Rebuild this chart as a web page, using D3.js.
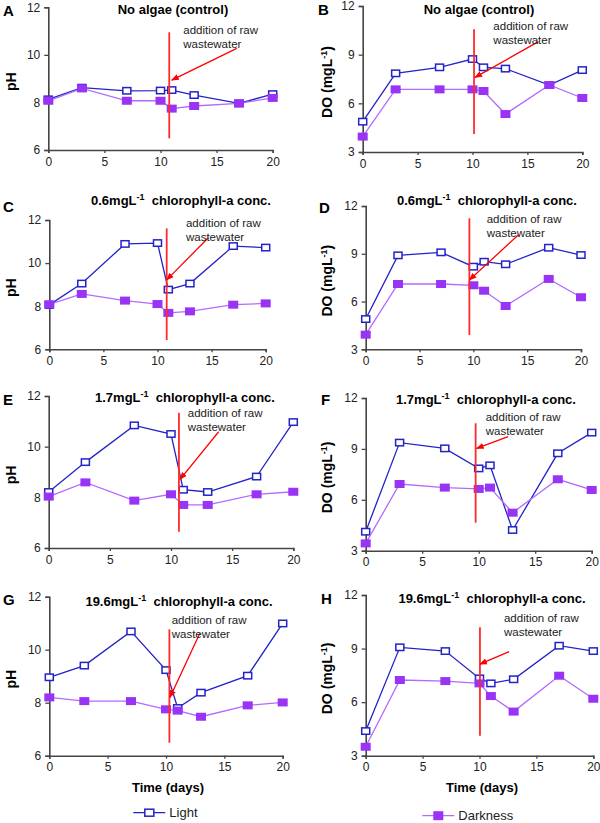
<!DOCTYPE html>
<html>
<head>
<meta charset="utf-8">
<script src="https://cdn.jsdelivr.net/npm/d3@7"></script>
<style>
  body { margin: 0; background: #fff; }
  svg { font-family: "Liberation Sans", Arial, sans-serif; }
</style>
</head>
<body>
<div id="chart"></div>
<script>
// Sampling days, shared by every panel
var days = [0, 3, 7, 10, 11, 13, 17, 20];

// pH values (light / darkness)
var phLightA = [8.13, 8.62, 8.49, 8.50, 8.52, 8.31, 7.96, 8.35];
var phDarkA  = [8.07, 8.59, 8.07, 8.07, 7.74, 7.85, 7.96, 8.19];
var phLightC = [8.06, 9.05, 10.89, 10.93, 8.77, 9.05, 10.79, 10.72];
var phDarkC  = [8.09, 8.57, 8.26, 8.10, 7.69, 7.76, 8.07, 8.13];
var phLightE = [8.21, 9.39, 10.84, 10.50, 8.30, 8.21, 8.82, 10.97];
var phDarkE  = [8.03, 8.59, 7.87, 8.12, 7.70, 7.70, 8.12, 8.22];
var phLightG = [8.96, 9.40, 10.69, 9.23, 7.80, 8.38, 9.02, 10.99];
var phDarkG  = [8.20, 8.06, 8.06, 7.75, 7.70, 7.47, 7.90, 8.01];

// DO values in mg/L (light / darkness)
var doLightB = [4.87, 7.85, 8.22, 8.73, 8.22, 8.14, 7.13, 8.05];
var doDarkB  = [3.95, 6.86, 6.86, 6.86, 6.76, 5.34, 7.13, 6.33];
var doLightD = [4.90, 8.90, 9.09, 8.19, 8.50, 8.34, 9.38, 8.92];
var doDarkD  = [3.92, 7.10, 7.10, 7.02, 6.68, 5.72, 7.42, 6.27];
var doLightF = [4.12, 9.37, 9.03, 7.85, 8.03, 4.22, 8.74, 9.96];
var doDarkF  = [3.43, 6.93, 6.72, 6.64, 6.72, 5.24, 7.21, 6.58];
var doLightH = [4.38, 9.07, 8.86, 7.33, 7.05, 7.28, 9.16, 8.86];
var doDarkH  = [3.50, 7.24, 7.18, 7.05, 6.34, 5.47, 7.48, 6.19];

// Tick labels
var dayTicks = [0, 5, 10, 15, 20];
var phTicks = [6, 8, 10, 12];
var doTicks = [3, 6, 9, 12];

// Titles
var titles = ["No algae (control)", "0.6", "1.7", "19.6"];

// Wastewater addition: day of the red line, its value span, arrow tail/tip, note position
var addition = [
  {day: 10.78, lo: 6.49, hi: 10.95, tail: [16.8, 10.27], tip: [11.0, 8.94], note: [12.03, 10.88]},
  {day: 10.14, lo: 4.11, hi: 10.56, tail: [16.0, 9.80], tip: [10.23, 7.60], note: [11.9, 10.52]},
  {day: 10.85, lo: 6.43, hi: 11.61, tail: [14.7, 11.18], tip: [10.85, 9.22], note: [12.63, 11.69]},
  {day: 9.63, lo: 3.90, hi: 11.23, tail: [14.2, 10.2], tip: [9.63, 7.35], note: [11.24, 10.95]},
  {day: 10.65, lo: 6.64, hi: 11.34, tail: [13.9, 10.59], tip: [10.74, 8.71], note: [11.37, 11.16]},
  {day: 9.73, lo: 4.65, hi: 10.51, tail: [12.6, 9.72], tip: [9.82, 9.03], note: [10.62, 10.66]},
  {day: 10.29, lo: 6.49, hi: 10.77, tail: [12.9, 10.62], tip: [10.34, 8.20], note: [10.49, 10.96]},
  {day: 10.04, lo: 4.12, hi: 10.19, tail: [12.6, 8.83], tip: [10.04, 8.13], note: [12.15, 10.47]}
];

// Panel layout (pixel box of each plot area)
var panels = [
  {letter: "A", kind: "ph", light: phLightA, dark: phDarkA, title: 0, x0: 48.3, x1: 272.7, y0: 7.3, y1: 150, tx: 173, ty: 14, lx: 3, ly: 16},
  {letter: "B", kind: "do", light: doLightB, dark: doDarkB, title: 0, x0: 362.7, x1: 582.3, y0: 6, y1: 152, tx: 479, ty: 14, lx: 318, ly: 15},
  {letter: "C", kind: "ph", light: phLightC, dark: phDarkC, title: 1, x0: 49.3, x1: 265.7, y0: 220, y1: 349.3, tx: 181, ty: 205, lx: 3, ly: 212},
  {letter: "D", kind: "do", light: doLightD, dark: doDarkD, title: 1, x0: 365.7, x1: 581, y0: 206, y1: 349.3, tx: 487, ty: 205, lx: 319, ly: 213},
  {letter: "E", kind: "ph", light: phLightE, dark: phDarkE, title: 2, x0: 48.7, x1: 293.3, y0: 396, y1: 548, tx: 185, ty: 402, lx: 3, ly: 405},
  {letter: "F", kind: "do", light: doLightF, dark: doDarkF, title: 2, x0: 365.7, x1: 591.7, y0: 398, y1: 550.7, tx: 486, ty: 404, lx: 321, ly: 405},
  {letter: "G", kind: "ph", light: phLightG, dark: phDarkG, title: 3, x0: 49.3, x1: 282.7, y0: 596.7, y1: 755.7, tx: 179, ty: 606, lx: 3, ly: 605},
  {letter: "H", kind: "do", light: doLightH, dark: doDarkH, title: 3, x0: 365.7, x1: 593.3, y0: 595, y1: 755.7, tx: 492, ty: 603, lx: 321, ly: 604}
];

var lightColor = "#2323c8",
    darkFill = "#9933f5",
    darkLine = "#b26bff",
    redColor = "#ff2a2a",
    axisColor = "#444";

var svg = d3.select("#chart").append("svg")
    .attr("width", 600)
    .attr("height", 823);

svg.append("defs").append("marker")
    .attr("id", "arrow")
    .attr("viewBox", "0 0 10 10")
    .attr("refX", 9)
    .attr("refY", 5)
    .attr("markerWidth", 6)
    .attr("markerHeight", 6)
    .attr("orient", "auto")
  .append("path")
    .attr("d", "M0,1 L10,5 L0,9 Z")
    .attr("fill", "#f00");

panels.forEach(function(p, i) {
  var isPh = p.kind === "ph";
  var x = d3.scaleLinear().domain([0, 20]).range([p.x0, p.x1]);
  var y = d3.scaleLinear().domain(isPh ? [6, 12] : [3, 12]).range([p.y1, p.y0]);
  var g = svg.append("g");

  // Axes
  var xAxis = g.append("g")
      .attr("transform", "translate(0," + p.y1 + ")")
      .call(d3.axisBottom(x).tickValues(dayTicks).tickFormat(d3.format("d")).tickSize(3).tickPadding(4));
  var yAxis = g.append("g")
      .attr("transform", "translate(" + p.x0 + ",0)")
      .call(d3.axisLeft(y).tickValues(isPh ? phTicks : doTicks).tickFormat(d3.format("d")).tickSize(4).tickPadding(4));
  [xAxis, yAxis].forEach(function(a) {
    a.select(".domain").attr("stroke", axisColor).attr("stroke-width", 1.6);
    a.selectAll(".tick line").attr("stroke", axisColor).attr("stroke-width", 1.3);
    a.selectAll("text").style("font-size", "12px").attr("fill", "#222");
  });

  var pts = function(vals) { return days.map(function(d, k) { return [d, vals[k]]; }); };
  var line = d3.line().x(function(d) { return x(d[0]); }).y(function(d) { return y(d[1]); });

  // Light series
  g.append("path").datum(pts(p.light))
      .attr("d", line).attr("fill", "none")
      .attr("stroke", lightColor).attr("stroke-width", 1.3);
  g.selectAll(".light").data(pts(p.light)).enter().append("rect")
      .attr("x", function(d) { return x(d[0]) - 4; })
      .attr("y", function(d) { return y(d[1]) - 3.2; })
      .attr("width", 8).attr("height", 6.4)
      .attr("fill", "#fff").attr("stroke", lightColor).attr("stroke-width", 1.5);

  // Darkness series
  g.append("path").datum(pts(p.dark))
      .attr("d", line).attr("fill", "none")
      .attr("stroke", darkLine).attr("stroke-width", 1.3);
  g.selectAll(".dark").data(pts(p.dark)).enter().append("rect")
      .attr("x", function(d) { return x(d[0]) - 5; })
      .attr("y", function(d) { return y(d[1]) - 4; })
      .attr("width", 10).attr("height", 8)
      .attr("fill", darkFill);

  // Wastewater addition marker
  var a = addition[i];
  g.append("line")
      .attr("x1", x(a.day)).attr("x2", x(a.day))
      .attr("y1", y(a.hi)).attr("y2", y(a.lo))
      .attr("stroke", redColor).attr("stroke-width", 1.8);
  g.append("line")
      .attr("x1", x(a.tail[0])).attr("y1", y(a.tail[1]))
      .attr("x2", x(a.tip[0])).attr("y2", y(a.tip[1]))
      .attr("stroke", "#f00").attr("stroke-width", 1.3)
      .attr("marker-end", "url(#arrow)");
  var note = g.append("text")
      .attr("x", x(a.note[0])).attr("y", y(a.note[1]))
      .style("font-size", "11.5px").attr("fill", "#222");
  note.append("tspan").text("addition of raw");
  note.append("tspan").attr("x", x(a.note[0])).attr("dy", 14).text("wastewater");

  // Title
  var t = g.append("text")
      .attr("x", p.tx).attr("y", p.ty)
      .attr("text-anchor", "middle")
      .style("font-size", "13px").style("font-weight", "bold");
  if (p.title === 0) {
    t.text(titles[0]);
  } else {
    t.append("tspan").text(titles[p.title] + "mgL");
    t.append("tspan").attr("dy", -5).style("font-size", "9px").text("-1");
    t.append("tspan").attr("dy", 5).text("\u00a0 chlorophyll-a conc.");
  }

  // Panel letter
  g.append("text")
      .attr("x", p.lx).attr("y", p.ly)
      .style("font-size", "15px").style("font-weight", "bold")
      .text(p.letter);

  // Y label
  var yl = g.append("text")
      .attr("transform", "translate(" + (isPh ? 16 : 332) + "," + ((p.y0 + p.y1) / 2 + 3) + ") rotate(-90)")
      .attr("text-anchor", "middle")
      .style("font-size", "14px").style("font-weight", "bold");
  if (isPh) {
    yl.text("pH");
  } else {
    yl.append("tspan").text("DO (mgL");
    yl.append("tspan").attr("dy", -5).style("font-size", "9px").text("-1");
    yl.append("tspan").attr("dy", 5).text(")");
  }

  // X label on the bottom row
  if (i >= 6) {
    g.append("text")
        .attr("x", i === 6 ? 168 : 482).attr("y", 792)
        .attr("text-anchor", "middle")
        .style("font-size", "13px").style("font-weight", "bold")
        .text("Time (days)");
  }
});

// Legend
var legend = [
  {name: "Light", x: 149.3, y: 812.7},
  {name: "Darkness", x: 438.3, y: 815.7}
];
legend.forEach(function(l, k) {
  var c = k === 0 ? lightColor : darkLine;
  svg.append("line")
      .attr("x1", l.x - 16).attr("x2", l.x + 16)
      .attr("y1", l.y).attr("y2", l.y)
      .attr("stroke", c).attr("stroke-width", 1.3);
  if (k === 0) {
    svg.append("rect").attr("x", l.x - 4.5).attr("y", l.y - 3.5)
        .attr("width", 9).attr("height", 7)
        .attr("fill", "#fff").attr("stroke", lightColor).attr("stroke-width", 1.5);
  } else {
    svg.append("rect").attr("x", l.x - 5).attr("y", l.y - 4.5)
        .attr("width", 10).attr("height", 9).attr("fill", darkFill);
  }
  svg.append("text")
      .attr("x", l.x + 20).attr("y", l.y + 4.5)
      .style("font-size", "13px").attr("fill", "#222")
      .text(l.name);
});
</script>
</body>
</html>
